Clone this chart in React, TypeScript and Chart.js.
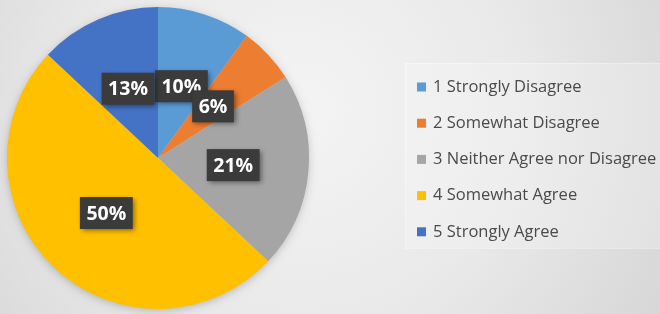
import React, { useEffect, useRef } from "react";
import { Chart, registerables } from "chart.js";

Chart.register(...registerables);

const categories = [
  "1 Strongly Disagree",
  "2 Somewhat Disagree",
  "3 Neither Agree nor Disagree",
  "4 Somewhat Agree",
  "5 Strongly Agree",
];
const shares = [10, 6, 21, 50, 13];
const sliceColors = ["#5B9BD5", "#ED7D31", "#A5A5A5", "#FFC000", "#4472C4"];

const FONT = "'Open Sans', 'Noto Sans', sans-serif";

const backgroundPlugin = {
  id: "bgGradient",
  beforeDraw(chart: any) {
    const { ctx, width, height } = chart;
    ctx.save();
    const g = ctx.createRadialGradient(300, 110, 20, 300, 110, 420);
    g.addColorStop(0, "#f3f3f3");
    g.addColorStop(0.5, "#e9e9e9");
    g.addColorStop(1, "#d6d6d6");
    ctx.fillStyle = g;
    ctx.fillRect(0, 0, width, height);
    // legend panel
    ctx.fillStyle = "rgba(250,250,250,0.25)";
    ctx.fillRect(405, 63, 260, 185);
    ctx.strokeStyle = "rgba(255,255,255,0.35)";
    ctx.lineWidth = 1;
    ctx.strokeRect(405.5, 63.5, 260, 185);
    // soft shadow under pie
    const meta = chart.getDatasetMeta(0);
    if (meta.data.length) {
      const a = meta.data[0] as any;
      ctx.shadowColor = "rgba(0,0,0,0.25)";
      ctx.shadowBlur = 10;
      ctx.shadowOffsetY = 2;
      ctx.beginPath();
      ctx.arc(a.x, a.y, a.outerRadius - 1, 0, Math.PI * 2);
      ctx.fillStyle = "#cccccc";
      ctx.fill();
    }
    ctx.restore();
  },
};

const labelPlugin = {
  id: "sliceLabels",
  afterDatasetsDraw(chart: any) {
    const { ctx } = chart;
    const meta = chart.getDatasetMeta(0);
    const values = chart.data.datasets[0].data as number[];
    const total = values.reduce((s, v) => s + v, 0);
    ctx.save();
    ctx.font = `bold 19.5px ${FONT}`;
    ctx.textAlign = "center";
    ctx.textBaseline = "middle";
    meta.data.forEach((arc: any, i: number) => {
      const mid = (arc.startAngle + arc.endAngle) / 2;
      const r = arc.outerRadius * 0.5;
      const x = arc.x + Math.cos(mid) * r;
      const y = arc.y + Math.sin(mid) * r;
      const text = Math.round((values[i] / total) * 100) + "%";
      const tw = ctx.measureText(text).width;
      const bw = tw + 13;
      const bh = 32;
      ctx.save();
      ctx.shadowColor = "rgba(0,0,0,0.45)";
      ctx.shadowBlur = 5;
      ctx.shadowOffsetX = 2;
      ctx.shadowOffsetY = 2;
      ctx.fillStyle = "#3b3b3b";
      ctx.fillRect(x - bw / 2, y - bh / 2, bw, bh);
      ctx.restore();
      ctx.fillStyle = "#ffffff";
      ctx.fillText(text, x, y + 1);
    });
    ctx.restore();
  },
};

const legendPlugin = {
  id: "sideLegend",
  afterDraw(chart: any) {
    const { ctx } = chart;
    const labels = chart.data.labels as string[];
    const colors = chart.data.datasets[0].backgroundColor as string[];
    ctx.save();
    ctx.font = `16.5px ${FONT}`;
    ctx.textBaseline = "middle";
    ctx.textAlign = "left";
    labels.forEach((lab, i) => {
      const y = 87 + i * 36.2;
      ctx.fillStyle = colors[i];
      ctx.fillRect(417, y - 4.5, 9, 9);
      ctx.fillStyle = "#4a4a4a";
      ctx.fillText(lab, 433, y);
    });
    ctx.restore();
  },
};

export default function App() {
  const ref = useRef<HTMLCanvasElement | null>(null);
  useEffect(() => {
    document.body.style.margin = "0";
    const canvas = ref.current!;
    const chart = new Chart(canvas, {
      type: "pie",
      data: {
        labels: categories,
        datasets: [
          {
            data: shares,
            backgroundColor: sliceColors,
            borderWidth: 0,
          },
        ],
      },
      options: {
        responsive: false,
        animation: false,
        layout: { padding: { left: 7, top: 7, right: 351, bottom: 5 } },
        plugins: {
          legend: { display: false },
          tooltip: { enabled: false },
        },
      },
      plugins: [backgroundPlugin, labelPlugin, legendPlugin],
    });
    return () => chart.destroy();
  }, []);
  return (
    <div style={{ width: 660, height: 314 }}>
      <canvas ref={ref} width={660} height={314} style={{ display: "block" }} />
    </div>
  );
}
